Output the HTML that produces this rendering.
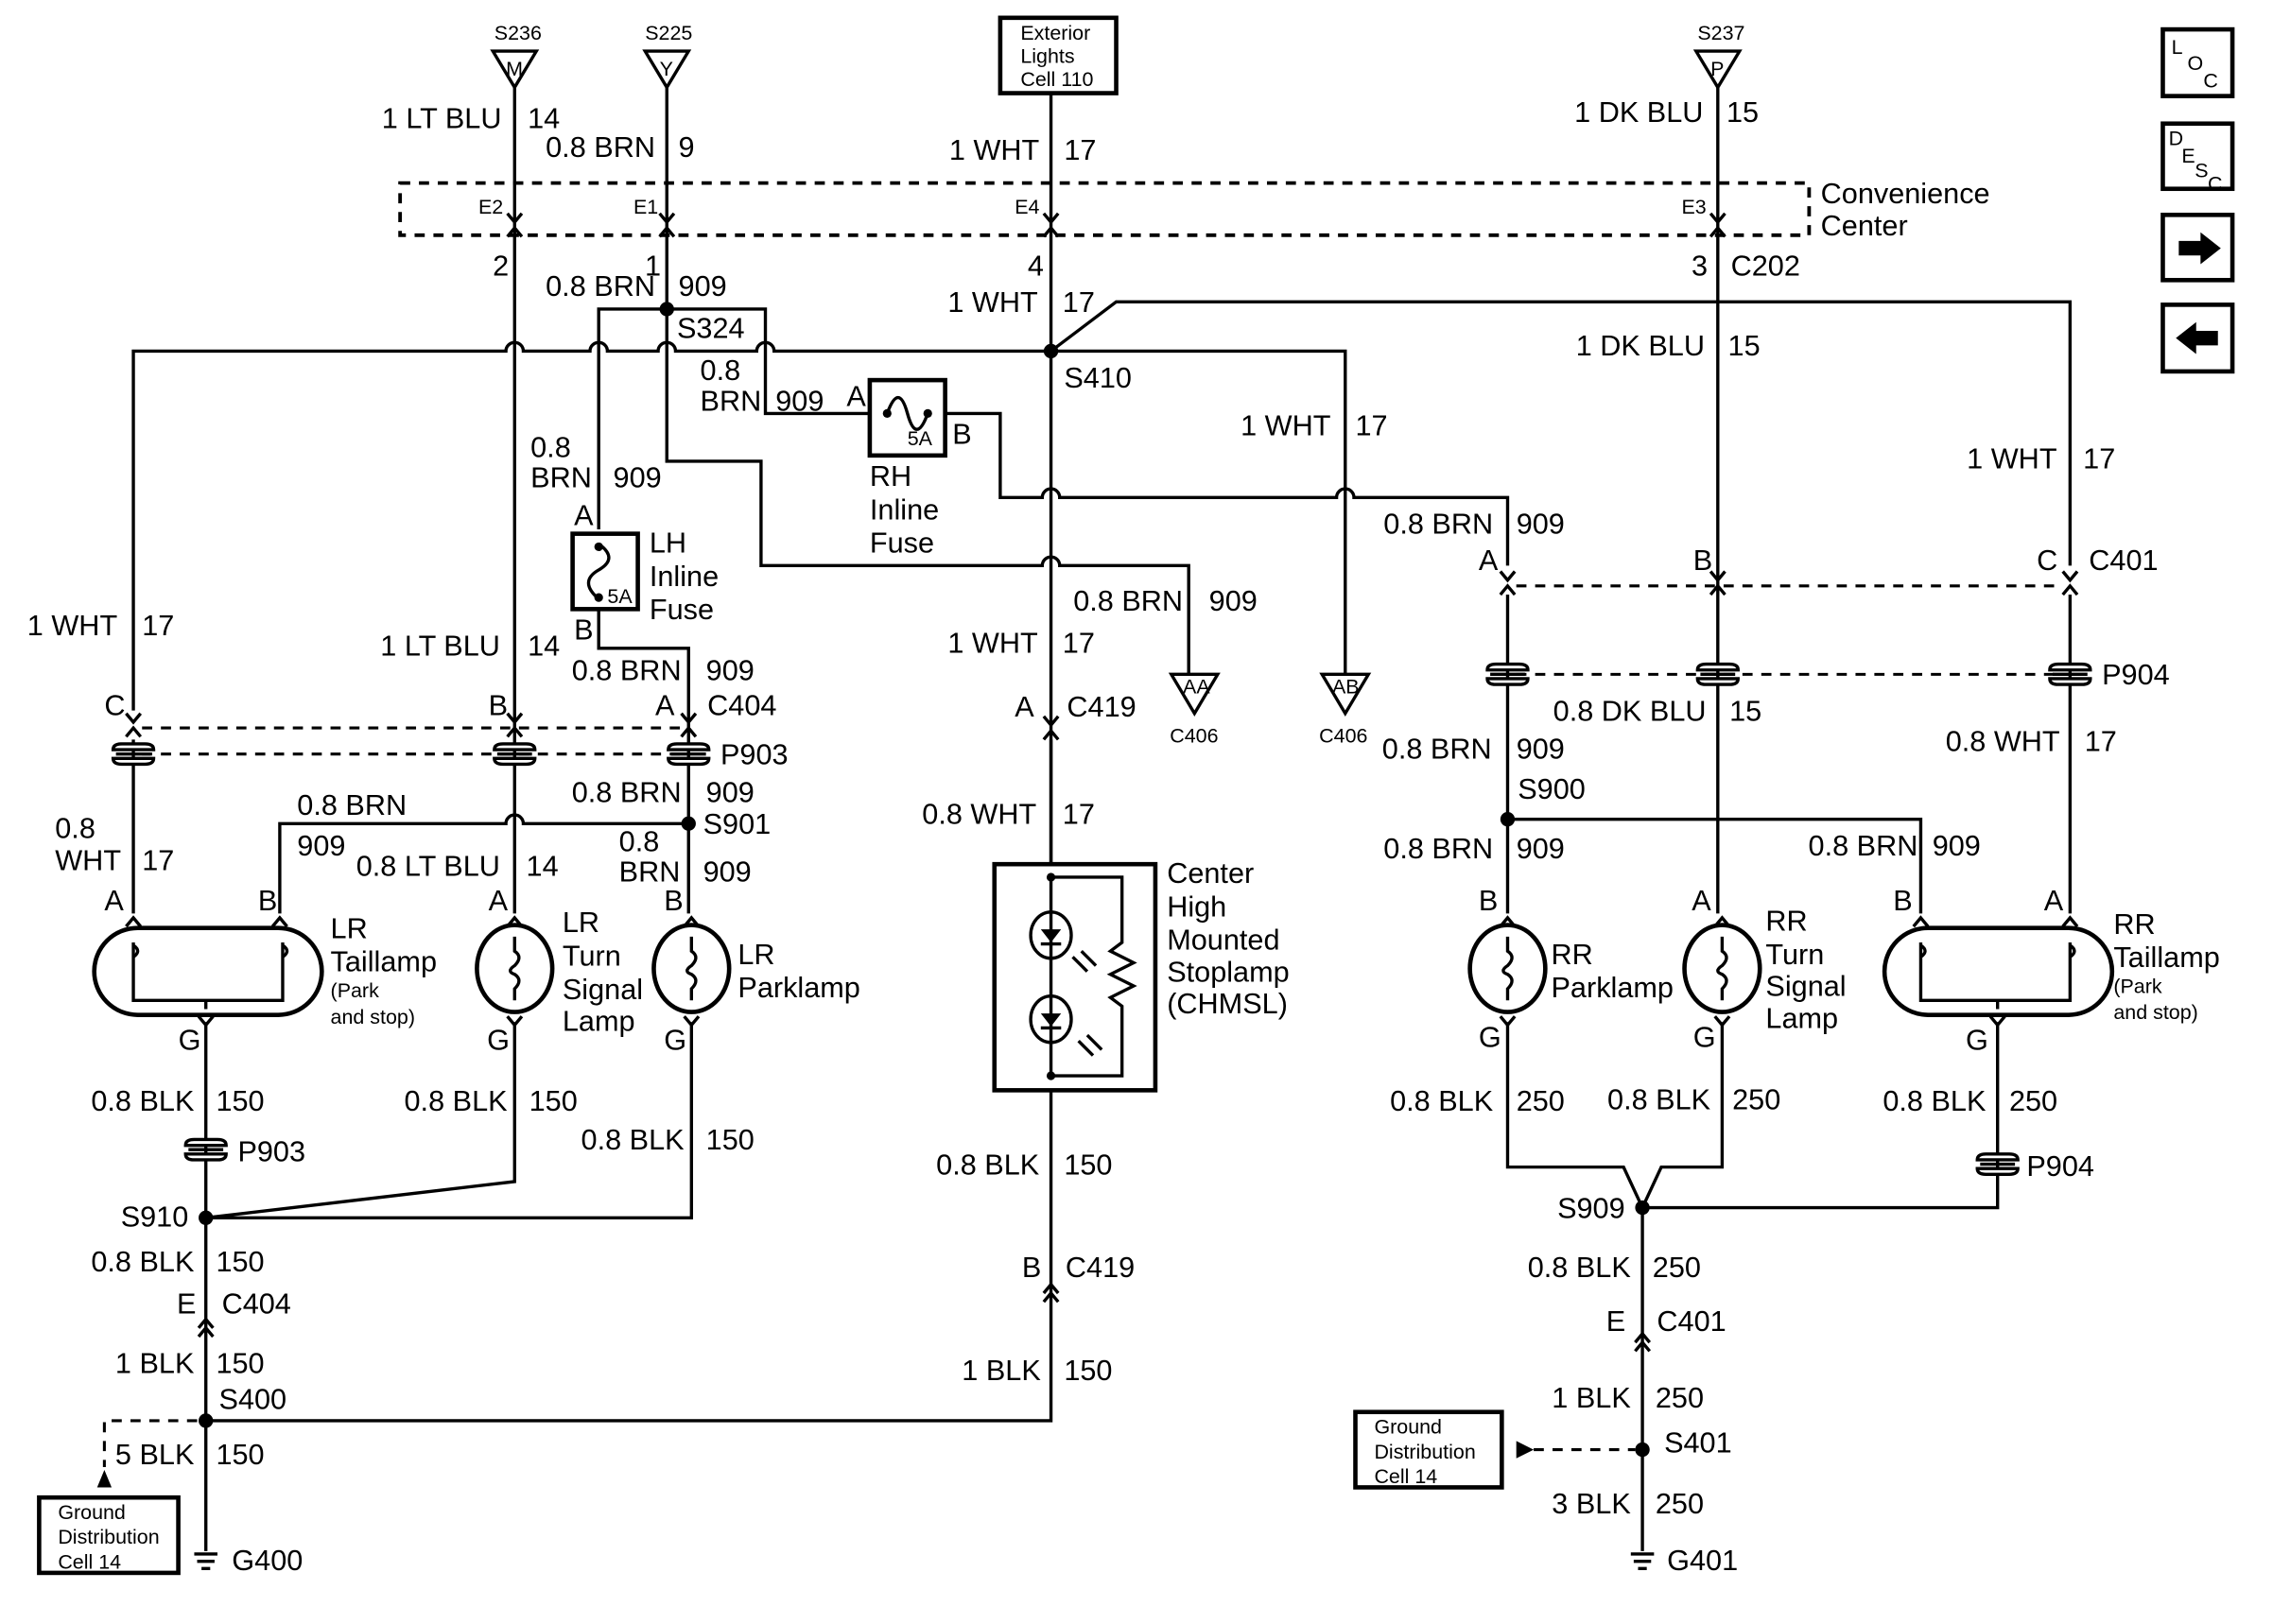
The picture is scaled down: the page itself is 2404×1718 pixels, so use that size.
<!DOCTYPE html>
<html><head><meta charset="utf-8"><style>
html,body{margin:0;padding:0;background:#fff}
svg{display:block}
text{font-family:"Liberation Sans Narrow","Liberation Sans",sans-serif;font-size:20px;fill:#000}
.s{font-size:14px}
.e{text-anchor:end}
.w{fill:none;stroke:#000;stroke-width:2.2}
.t{fill:none;stroke:#000;stroke-width:3}
.d{fill:none;stroke:#000;stroke-width:2;stroke-dasharray:7 6}
</style></head><body>
<svg width="2404" height="1718" viewBox="0 0 1568 1120" xmlns="http://www.w3.org/2000/svg">
<defs>
<g id="cn"><path class="w" d="M-5,-8 L0,-2 L5,-8 M-5,8 L0,2 L5,8"/></g>
<g id="ci"><path class="w" d="M-5,5 L0,-1 L5,5"/></g>
<g id="co"><path class="w" d="M-5,-5 L0,1 L5,-5"/></g>
<g id="pc"><path fill="#fff" stroke="#000" stroke-width="2.2" d="M-14,-3 Q-14,-7 -8,-7 L8,-7 Q14,-7 14,-3 Z M-14,3 Q-14,7 -8,7 L8,7 Q14,7 14,3 Z"/><path class="w" d="M-12,0 L12,0"/></g>
<g id="fil"><path class="w" d="M0,-22 V-12 q6,4 0,10 q-6,4 0,6 q6,4 0,10 V22"/></g>
</defs>

<g class="w">
<path d="M340,35 L370,35 L355,60 Z"/><path d="M445,35 L475,35 L460,60 Z"/><path d="M1170,35 L1200,35 L1185,60 Z"/>
</g>
<text class="s" x="341" y="27">S236</text><text class="s" x="445" y="27">S225</text><text class="s" x="1171" y="27">S237</text>
<text class="s" x="349" y="52">M</text><text class="s" x="455" y="52">Y</text><text class="s" x="1180" y="52">P</text>
<rect class="t" x="690" y="12" width="80" height="52"/>
<text class="s" x="704" y="27">Exterior</text><text class="s" x="704" y="43">Lights</text><text class="s" x="704" y="59">Cell 110</text>

<rect class="d" x="276" y="126" width="972" height="36" style="stroke-width:2.5"/>
<text x="1256" y="140">Convenience</text><text x="1256" y="162">Center</text>
<text class="s" x="330" y="147">E2</text><text class="s" x="437" y="147">E1</text><text class="s" x="700" y="147">E4</text><text class="s" x="1160" y="147">E3</text>

<g class="w">
<path d="M355,60 V630"/>
<path d="M460,60 V318 H525 V390 H719 a6,6 0 0 1 12,0 H820 V465"/>
<path d="M725,64 V596"/>
<path d="M1185,60 V630"/>
<path d="M413,365 V213 H528 V285 H600"/>
<path d="M92,490 V242 H349 a6,6 0 0 1 12,0 H407 a6,6 0 0 1 12,0 H454 a6,6 0 0 1 12,0 H522 a6,6 0 0 1 12,0 H928 V465"/>
<path d="M725,242 L770,208 H1428 V390"/>
<path d="M652,285 H690 V343 H719 a6,6 0 0 1 12,0 H922 a6,6 0 0 1 12,0 H1040 V390"/>
<path d="M1040,410 V630"/><path d="M1428,410 V630"/>
<path d="M413,420 V447 H475 V630"/>
<path d="M92,510 V630"/>
<path d="M193,630 V568 H349 a6,6 0 0 1 12,0 H475"/>
<path d="M1040,565 H1325 V630"/>
<path d="M725,510 V596"/>
<path d="M142,705 V1070"/>
<path d="M355,705 V815 L142,840 H477 V705"/>
<path d="M725,752 V980 H142"/>
<path d="M1040,705 V805 H1120 L1133,833 L1146,805 H1188 V705"/>
<path d="M1378,705 V833 H1133 V1070"/>
</g>
<g fill="#000">
<circle cx="460" cy="213" r="5"/><circle cx="725" cy="242" r="5"/><circle cx="475" cy="568" r="5"/><circle cx="1040" cy="565" r="5"/>
<circle cx="142" cy="840" r="5"/><circle cx="1133" cy="833" r="5"/><circle cx="142" cy="980" r="5"/><circle cx="1133" cy="1000" r="5"/>
</g>
<use href="#cn" x="355" y="155"/><use href="#cn" x="460" y="155"/><use href="#cn" x="725" y="155"/><use href="#cn" x="1185" y="155"/>
<use href="#cn" x="92" y="500"/><use href="#cn" x="355" y="500"/><use href="#cn" x="475" y="500"/>
<use href="#cn" x="1040" y="402"/><use href="#cn" x="1185" y="402"/><use href="#cn" x="1428" y="402"/>
<use href="#cn" x="725" y="502"/>
<path class="d" d="M98,502 H470 M98,520 H470"/>
<path class="d" d="M1046,404 H1422 M1046,465 H1422"/>
<use href="#pc" x="92" y="520"/><use href="#pc" x="355" y="520"/><use href="#pc" x="475" y="520"/>
<use href="#pc" x="1040" y="465"/><use href="#pc" x="1185" y="465"/><use href="#pc" x="1428" y="465"/>
<use href="#pc" x="142" y="793"/><use href="#pc" x="1378" y="803"/>
<use href="#ci" x="725" y="887"/><use href="#ci" x="725" y="893"/>
<use href="#ci" x="142" y="911"/><use href="#ci" x="142" y="917"/>
<use href="#ci" x="1133" y="921"/><use href="#ci" x="1133" y="927"/>
<path class="w" d="M808,465 H840 L824,492 Z M912,465 H944 L928,492 Z"/>
<text class="s" x="816" y="478">AA</text><text class="s" x="919" y="478">AB</text>
<text class="s" x="807" y="512">C406</text><text class="s" x="910" y="512">C406</text>

<rect class="t" x="600" y="262" width="52" height="52"/>
<path class="w" d="M612,285 q8,-22 14,0 q6,22 14,0"/>
<circle cx="612" cy="285" r="3"/><circle cx="640" cy="285" r="3"/>
<text class="s" x="626" y="307">5A</text>
<rect class="t" x="395" y="368" width="45" height="52"/>
<path class="w" d="M413,375 q14,10 0,18 q-14,8 0,20"/>
<circle cx="413" cy="377" r="3"/><circle cx="413" cy="412" r="3"/>
<text class="s" x="419" y="416">5A</text>

<g class="w">
<rect x="65" y="640" width="157" height="60" rx="30" style="stroke-width:3"/>
<path d="M92,650 V690 H195 V650"/><path d="M142,690 v6"/>
<path d="M92,660 q6,-4 0,-8 M195,660 q6,-4 0,-8"/>
<ellipse cx="355" cy="668" rx="26" ry="30" style="stroke-width:3"/>
<ellipse cx="477" cy="668" rx="26" ry="30" style="stroke-width:3"/>
<ellipse cx="1040" cy="668" rx="26" ry="30" style="stroke-width:3"/>
<ellipse cx="1188" cy="668" rx="26" ry="30" style="stroke-width:3"/>
<rect x="1300" y="640" width="157" height="60" rx="30" style="stroke-width:3"/>
<path d="M1325,650 V690 H1428 V650"/><path d="M1378,690 v6"/>
<path d="M1325,660 q6,-4 0,-8 M1428,660 q6,-4 0,-8"/>
</g>
<use href="#fil" x="355" y="668"/><use href="#fil" x="477" y="668"/><use href="#fil" x="1040" y="668"/><use href="#fil" x="1188" y="668"/>
<use href="#ci" x="92" y="634"/><use href="#ci" x="193" y="634"/><use href="#ci" x="355" y="634"/><use href="#ci" x="477" y="634"/>
<use href="#ci" x="1040" y="634"/><use href="#ci" x="1188" y="634"/><use href="#ci" x="1325" y="634"/><use href="#ci" x="1428" y="634"/>
<use href="#co" x="142" y="706"/><use href="#co" x="355" y="706"/><use href="#co" x="477" y="706"/>
<use href="#co" x="1040" y="706"/><use href="#co" x="1188" y="706"/><use href="#co" x="1378" y="706"/>

<rect class="t" x="686" y="596" width="111" height="156"/>
<g class="w">
<path d="M725,605 H774 V650 l-8,6 16,8 -16,8 16,8 -16,8 8,6 V742 H725"/>
<ellipse cx="725" cy="645" rx="14" ry="16"/><ellipse cx="725" cy="703" rx="14" ry="16"/>
<path d="M740,660 l10,10 M746,656 l10,10 M744,718 l10,10 M750,714 l10,10"/>
<path d="M725,605 V742"/>
</g>
<path d="M718,641 H732 L725,650 Z M718,699 H732 L725,708 Z"/>
<path class="w" d="M718,651 H732 M718,709 H732"/>
<circle cx="725" cy="605" r="3"/><circle cx="725" cy="742" r="3"/>

<path class="w" d="M134,1072 H150 M136,1077 H148 M139,1082 H145"/>
<path class="w" d="M1125,1072 H1141 M1127,1077 H1139 M1130,1082 H1136"/>
<path class="d" d="M136,980 H72 V1012"/><path d="M67,1026 L72,1014 L77,1026 Z"/>
<path class="d" d="M1058,1000 H1128"/><path d="M1046,994 L1058,1000 L1046,1006 Z"/>
<rect class="t" x="27" y="1033" width="96" height="52"/>
<text class="s" x="40" y="1048">Ground</text><text class="s" x="40" y="1065">Distribution</text><text class="s" x="40" y="1082">Cell 14</text>
<rect class="t" x="935" y="974" width="101" height="52"/>
<text class="s" x="948" y="989">Ground</text><text class="s" x="948" y="1006">Distribution</text><text class="s" x="948" y="1023">Cell 14</text>

<g class="t"><rect x="1492" y="20" width="48" height="46"/><rect x="1492" y="85" width="48" height="45"/><rect x="1492" y="148" width="48" height="45"/><rect x="1492" y="210" width="48" height="46"/></g>
<text class="s" x="1498" y="37">L</text><text class="s" x="1509" y="48">O</text><text class="s" x="1520" y="60">C</text>
<text class="s" x="1496" y="100">D</text><text class="s" x="1505" y="112">E</text><text class="s" x="1514" y="122">S</text><text class="s" x="1523" y="131">C</text>
<path d="M1503,166 H1518 V160 L1532,171 L1518,182 V176 H1503 Z"/>
<path d="M1530,228 H1515 V222 L1501,233 L1515,244 V238 H1530 Z"/>

<text class="e" x="346" y="88">1 LT BLU</text><text x="364" y="88">14</text>
<text class="e" x="452" y="108">0.8 BRN</text><text x="468" y="108">9</text>
<text class="e" x="717" y="110">1 WHT</text><text x="734" y="110">17</text>
<text class="e" x="1175" y="84">1 DK BLU</text><text x="1191" y="84">15</text>
<text class="e" x="351" y="190">2</text><text class="e" x="456" y="190">1</text><text class="e" x="720" y="190">4</text><text class="e" x="1178" y="190">3</text><text x="1194" y="190">C202</text>
<text class="e" x="452" y="204">0.8 BRN</text><text x="468" y="204">909</text>
<text class="e" x="716" y="215">1 WHT</text><text x="733" y="215">17</text>
<text x="467" y="233">S324</text>
<text class="e" x="1176" y="245">1 DK BLU</text><text x="1192" y="245">15</text>
<text x="483" y="262">0.8</text><text x="483" y="283">BRN</text><text x="535" y="283">909</text>
<text x="734" y="267">S410</text>
<text x="584" y="280">A</text><text x="657" y="306">B</text>
<text class="e" x="918" y="300">1 WHT</text><text x="935" y="300">17</text>
<text x="600" y="335">RH</text><text x="600" y="358">Inline</text><text x="600" y="381">Fuse</text>
<text x="366" y="315">0.8</text><text x="366" y="336">BRN</text><text x="423" y="336">909</text>
<text class="e" x="1419" y="323">1 WHT</text><text x="1437" y="323">17</text>
<text class="e" x="1030" y="368">0.8 BRN</text><text x="1046" y="368">909</text>
<text x="396" y="362">A</text><text x="448" y="381">LH</text><text x="448" y="404">Inline</text><text x="448" y="427">Fuse</text>
<text x="1020" y="393">A</text><text x="1168" y="393">B</text><text x="1405" y="393">C</text><text x="1441" y="393">C401</text>
<text x="396" y="441">B</text>
<text class="e" x="816" y="421">0.8 BRN</text><text x="834" y="421">909</text>
<text class="e" x="81" y="438">1 WHT</text><text x="98" y="438">17</text>
<text class="e" x="345" y="452">1 LT BLU</text><text x="364" y="452">14</text>
<text class="e" x="716" y="450">1 WHT</text><text x="733" y="450">17</text>
<text class="e" x="470" y="469">0.8 BRN</text><text x="487" y="469">909</text>
<text x="72" y="493">C</text><text x="337" y="493">B</text><text x="452" y="493">A</text><text x="488" y="493">C404</text>
<text x="700" y="494">A</text><text x="736" y="494">C419</text>
<text x="1450" y="472">P904</text><text x="497" y="527">P903</text>
<text class="e" x="1177" y="497">0.8 DK BLU</text><text x="1193" y="497">15</text>
<text class="e" x="1029" y="523">0.8 BRN</text><text x="1046" y="523">909</text>
<text class="e" x="1421" y="518">0.8 WHT</text><text x="1438" y="518">17</text>
<text class="e" x="470" y="553">0.8 BRN</text><text x="487" y="553">909</text><text x="1047" y="551">S900</text>
<text x="205" y="562">0.8 BRN</text>
<text class="e" x="715" y="568">0.8 WHT</text><text x="733" y="568">17</text>
<text x="38" y="578">0.8</text><text x="38" y="600">WHT</text><text x="98" y="600">17</text>
<text x="205" y="590">909</text>
<text x="427" y="587">0.8</text><text x="427" y="608">BRN</text><text x="485" y="608">909</text><text x="485" y="575">S901</text>
<text class="e" x="345" y="604">0.8 LT BLU</text><text x="363" y="604">14</text>
<text class="e" x="1030" y="592">0.8 BRN</text><text x="1046" y="592">909</text>
<text class="e" x="1323" y="590">0.8 BRN</text><text x="1333" y="590">909</text>
<text x="72" y="628">A</text><text x="178" y="628">B</text><text x="337" y="628">A</text><text x="458" y="628">B</text>
<text x="1020" y="628">B</text><text x="1167" y="628">A</text><text x="1306" y="628">B</text><text x="1410" y="628">A</text>
<text x="228" y="647">LR</text><text x="228" y="670">Taillamp</text><text class="s" x="228" y="688">(Park</text><text class="s" x="228" y="706">and stop)</text>
<text x="388" y="643">LR</text><text x="388" y="666">Turn</text><text x="388" y="689">Signal</text><text x="388" y="711">Lamp</text>
<text x="509" y="665">LR</text><text x="509" y="688">Parklamp</text>
<text x="805" y="609">Center</text><text x="805" y="632">High</text><text x="805" y="655">Mounted</text><text x="805" y="677">Stoplamp</text><text x="805" y="699">(CHMSL)</text>
<text x="1070" y="665">RR</text><text x="1070" y="688">Parklamp</text>
<text x="1218" y="642">RR</text><text x="1218" y="665">Turn</text><text x="1218" y="687">Signal</text><text x="1218" y="709">Lamp</text>
<text x="1458" y="644">RR</text><text x="1458" y="667">Taillamp</text><text class="s" x="1458" y="685">(Park</text><text class="s" x="1458" y="703">and stop)</text>
<text x="123" y="724">G</text><text x="336" y="724">G</text><text x="458" y="724">G</text><text x="1020" y="722">G</text><text x="1168" y="722">G</text><text x="1356" y="724">G</text>
<text class="e" x="134" y="766">0.8 BLK</text><text x="149" y="766">150</text>
<text class="e" x="350" y="766">0.8 BLK</text><text x="365" y="766">150</text>
<text class="e" x="472" y="793">0.8 BLK</text><text x="487" y="793">150</text>
<text class="e" x="717" y="810">0.8 BLK</text><text x="734" y="810">150</text>
<text class="e" x="1030" y="766">0.8 BLK</text><text x="1046" y="766">250</text>
<text class="e" x="1180" y="765">0.8 BLK</text><text x="1195" y="765">250</text>
<text class="e" x="1370" y="766">0.8 BLK</text><text x="1386" y="766">250</text>
<text x="164" y="801">P903</text><text x="1398" y="811">P904</text>
<text class="e" x="130" y="846">S910</text><text class="e" x="1121" y="840">S909</text>
<text class="e" x="134" y="877">0.8 BLK</text><text x="149" y="877">150</text>
<text class="e" x="1125" y="881">0.8 BLK</text><text x="1140" y="881">250</text>
<text x="122" y="906">E</text><text x="153" y="906">C404</text>
<text x="705" y="881">B</text><text x="735" y="881">C419</text>
<text x="1108" y="918">E</text><text x="1143" y="918">C401</text>
<text class="e" x="134" y="947">1 BLK</text><text x="149" y="947">150</text>
<text class="e" x="718" y="952">1 BLK</text><text x="734" y="952">150</text>
<text class="e" x="1125" y="971">1 BLK</text><text x="1142" y="971">250</text>
<text x="151" y="972">S400</text><text x="1148" y="1002">S401</text>
<text class="e" x="134" y="1010">5 BLK</text><text x="149" y="1010">150</text>
<text class="e" x="1125" y="1044">3 BLK</text><text x="1142" y="1044">250</text>
<text x="160" y="1083">G400</text><text x="1150" y="1083">G401</text>
</svg>
</body></html>
